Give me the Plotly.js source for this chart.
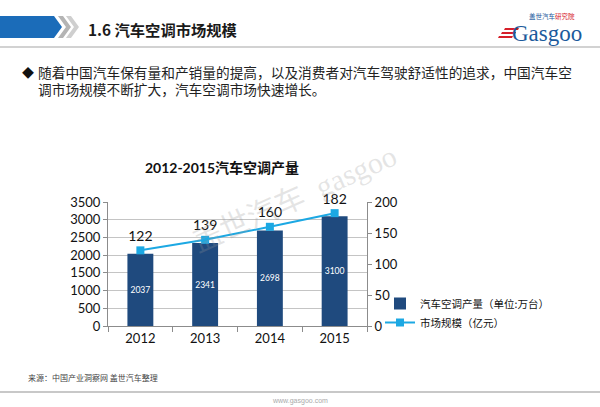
<!DOCTYPE html>
<html>
<head>
<meta charset="utf-8">
<script src="https://cdn.plot.ly/plotly-3.0.1.min.js"></script>
<style>
html,body{margin:0;padding:0;background:#fff;}
#chart{width:600px;height:407px;}
</style>
</head>
<body>
<div id="chart"></div>
<script>
// ---- data ----
var years = ['2012', '2013', '2014', '2015'];
var production = [2037, 2341, 2698, 3100];      // 汽车空调产量（万台）
var marketSize = [122, 139, 160, 182];          // 市场规模（亿元）
var productionName = '汽车空调产量（单位:万台）';
var marketName = '市场规模（亿元）';
var chartTitle = '2012-2015汽车空调产量';
var pageTitle = '1.6 汽车空调市场规模';
var bulletLine1 = '随着中国汽车保有量和产销量的提高，以及消费者对汽车驾驶舒适性的追求，中国汽车空';
var bulletLine2 = '调市场规模不断扩大，汽车空调市场快速增长。';
var sourceText = '来源：中国产业洞察网 盖世汽车整理';

// ---- geometry helpers (pixel -> paper) ----
var L = 108, R = 367, T = 202, B = 326;
function px(p){ return (p - L) / (R - L); }
function py(p){ return (B - p) / (B - T); }
function path(pts){
  return 'M' + pts.map(function(q){ return px(q[0]).toFixed(4) + ',' + py(q[1]).toFixed(4); }).join(' L') + ' Z';
}

var FONT = 'Lato, "Noto Sans CJK SC", sans-serif';
var CJK = '"Noto Sans CJK SC", sans-serif';

var traces = [
  {
    type: 'bar', name: productionName, x: years, y: production,
    width: 0.4, marker: {color: '#1f4a7e'},
    text: production.map(String), textposition: 'inside', insidetextanchor: 'middle',
    textangle: 0, textfont: {color: '#ffffff', size: 12, family: FONT},
    hoverinfo: 'x+y'
  },
  {
    type: 'scatter', mode: 'lines+markers+text', name: marketName, x: years, y: marketSize,
    yaxis: 'y2', line: {color: '#1ca8e3', width: 2},
    marker: {symbol: 'square', size: 8, color: '#1ca8e3'},
    text: marketSize.map(String), textposition: 'top center', cliponaxis: false,
    textfont: {color: '#111', size: 14, family: FONT}
  }
];

var shapes = [
  // header blue band
  {type: 'path', xref: 'paper', yref: 'paper', path: path([[0,16],[54,16],[62,27],[54,38],[0,38]]),
   fillcolor: '#1b6cb9', line: {width: 0}},
  // grey chevrons
  {type: 'path', xref: 'paper', yref: 'paper', path: path([[58,16],[63,16],[71,27],[63,38],[58,38],[66,27]]),
   fillcolor: '#b4b4b4', line: {width: 0}},
  {type: 'path', xref: 'paper', yref: 'paper', path: path([[66,16],[71,16],[79,27],[71,38],[66,38],[74,27]]),
   fillcolor: '#cfcfcf', line: {width: 0}},
  // header rule
  {type: 'line', xref: 'paper', yref: 'paper', x0: px(0), x1: px(600), y0: py(47), y1: py(47),
   line: {color: '#d2d2d2', width: 2}},
  // footer rule
  {type: 'line', xref: 'paper', yref: 'paper', x0: px(0), x1: px(600), y0: py(392), y1: py(392),
   line: {color: '#c8c8c8', width: 2}},
  // logo red stripes
  {type: 'path', xref: 'paper', yref: 'paper', path: path([[505,28],[519,28],[518,30],[504,30]]), fillcolor: '#d6202a', line: {width: 0}},
  {type: 'path', xref: 'paper', yref: 'paper', path: path([[502,32],[516,32],[515,34],[501,34]]), fillcolor: '#d6202a', line: {width: 0}},
  {type: 'path', xref: 'paper', yref: 'paper', path: path([[499,36],[513,36],[512,38],[498,38]]), fillcolor: '#d6202a', line: {width: 0}}
];

function ann(text, x, y, opts){
  var a = {text: text, xref: 'paper', yref: 'paper', x: px(x), y: py(y), showarrow: false,
           xanchor: 'left', yanchor: 'middle', font: {family: CJK, size: 14, color: '#222'}};
  for (var k in opts) a[k] = opts[k];
  return a;
}

var annotations = [
  ann('<b>' + pageTitle + '</b>', 86, 29, {font: {family: CJK, size: 15.3, color: '#1a1a1a'}}),
  ann('◆', 20, 72, {font: {family: CJK, size: 12, color: '#111'}}),
  ann(bulletLine1, 36, 72, {font: {family: CJK, size: 13.7, color: '#222'}}),
  ann(bulletLine2, 36, 89, {font: {family: CJK, size: 13.7, color: '#222'}}),
  ann(sourceText, 26, 377, {font: {family: CJK, size: 8, color: '#444'}}),
  ann('www.gasgoo.com', 300, 401, {xanchor: 'center', font: {family: 'Liberation Sans, sans-serif', size: 7, color: '#aaa'}}),
  // logo
  ann('<span style="color:#1b5a9c">盖世汽车</span><span style="color:#d6202a">研究院</span>', 527, 16,
      {font: {family: CJK, size: 6.5, color: '#1b5a9c'}}),
  ann('Gasgoo', 510, 33, {font: {family: '"Liberation Serif", serif', size: 23, color: '#1b5a9c'}}),
  // watermark
  ann('盖世汽车  gasgoo', 294, 198, {xanchor: 'center', textangle: -24,
      font: {family: '"Liberation Serif", "Noto Sans CJK SC", serif', size: 30, color: 'rgba(150,150,150,0.25)'}})
];

var layout = {
  width: 600, height: 407,
  margin: {l: L, r: 600 - R, t: T, b: 407 - B, pad: 0},
  paper_bgcolor: '#ffffff', plot_bgcolor: '#ffffff',
  font: {family: FONT, size: 13, color: '#111'},
  title: {text: '<b>' + chartTitle + '</b>', font: {family: FONT, size: 14, color: '#111'},
          xref: 'paper', x: px(222), xanchor: 'center', yref: 'container', y: 1 - 168/407, yanchor: 'middle'},
  bargap: 0.6,
  showlegend: true,
  legend: {x: px(380), y: py(289), xanchor: 'left', yanchor: 'top', bgcolor: 'rgba(0,0,0,0)',
           font: {family: CJK, size: 10.5, color: '#111'}, tracegroupgap: 0, itemwidth: 30},
  xaxis: {type: 'category', categoryorder: 'array', categoryarray: years,
          showline: true, linecolor: '#8c8c8c', linewidth: 1, ticks: 'outside', tickson: 'boundaries',
          ticklen: 5, tickcolor: '#8c8c8c', tickfont: {size: 13, color: '#111'}, showgrid: false, fixedrange: true},
  yaxis: {range: [0, 3500], dtick: 500, showgrid: true, gridcolor: '#c4c4c4', gridwidth: 1,
          showline: true, linecolor: '#8c8c8c', ticks: 'outside', ticklen: 4, tickcolor: '#8c8c8c',
          tickfont: {size: 13, color: '#111'}, zeroline: false, fixedrange: true},
  yaxis2: {range: [0, 200], dtick: 50, overlaying: 'y', side: 'right', showgrid: false,
           showline: true, linecolor: '#8c8c8c', ticks: 'outside', ticklen: 4, tickcolor: '#8c8c8c',
           tickfont: {size: 13, color: '#111'}, zeroline: false, fixedrange: true},
  shapes: shapes,
  annotations: annotations
};

Plotly.newPlot('chart', traces, layout, {displayModeBar: false, staticPlot: true});
</script>
</body>
</html>
